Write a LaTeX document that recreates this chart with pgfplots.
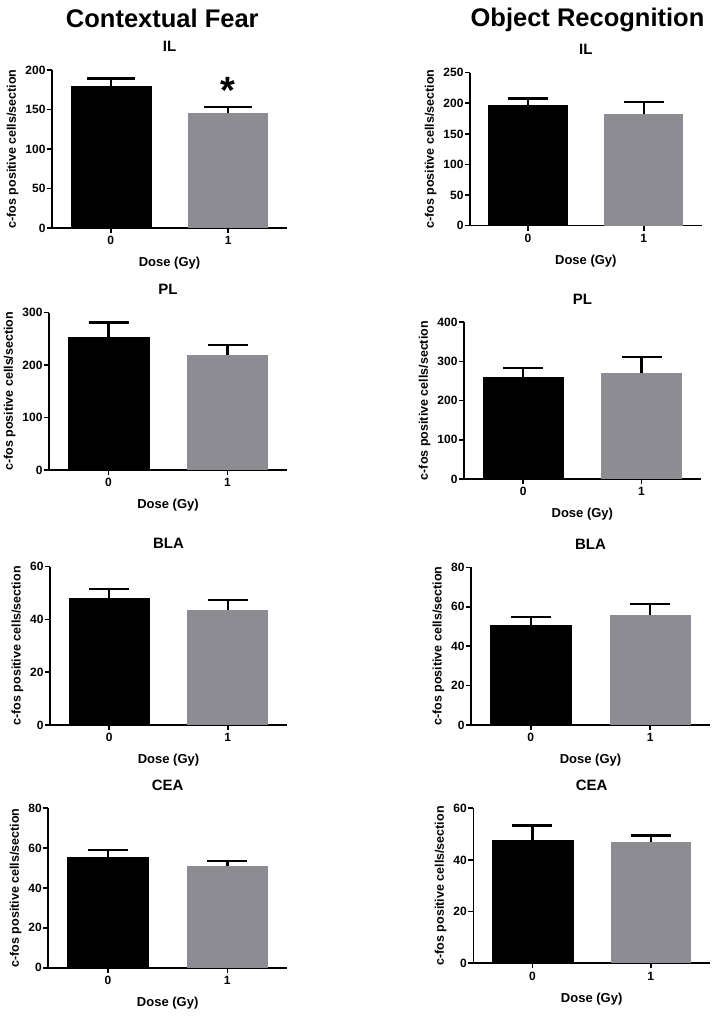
\documentclass[border=0pt]{standalone}
\usepackage{fontspec}
\setmainfont{Liberation Sans}
\usepackage{pgfplots}
\pgfplotsset{compat=1.18}
\definecolor{bargray}{RGB}{140,140,146}
\pgfplotsset{
 panel/.style={
  scale only axis, anchor=south west,
  xmin=-0.5, xmax=1.5, ymin=0,
  axis lines=left,
  axis line style={line width=1.6pt, -},
  tick align=outside, major tick length=5pt,
  tick style={line width=1.6pt, black},
  xtick={0,1},
  ticklabel style={font=\bfseries\fontsize{12}{13}\selectfont},
  yticklabel style={xshift=2pt},
  /pgf/number format/assume math mode=true,
  xlabel={Dose (Gy)}, ylabel={c-fos positive cells/section},
  xlabel style={font=\bfseries\fontsize{13}{14}\selectfont, at={(axis description cs:0.5,0)}, anchor=base, yshift=-38.7pt},
  ylabel style={font=\bfseries\fontsize{12.5}{14}\selectfont},
  title style={font=\bfseries\fontsize{15}{16}\selectfont, at={(axis description cs:0.5,1)}, anchor=base, yshift=12pt},
  clip=false,
 },
 barblack/.style={ybar, bar width=0.68, bar shift=0pt, fill=black, draw=black,
   error bars/.cd, y dir=plus, y explicit,
   error bar style={line width=2.4pt, black},
   error mark options={rotate=90, line width=2.4pt, mark size=#1, black}},
 barblack/.default=20pt,
 bargrey/.style={ybar, bar width=0.68, bar shift=0pt, fill=bargray, draw=none,
   error bars/.cd, y dir=plus, y explicit,
   error bar style={line width=2.4pt, black},
   error mark options={rotate=90, line width=2.4pt, mark size=#1, black}},
 bargrey/.default=20pt,
}
\begin{document}
\begin{tikzpicture}
\useasboundingbox (0pt,0pt) rectangle (718pt,1016pt);
\node[anchor=base, font=\bfseries\fontsize{25.5}{28}\selectfont] at (162.3pt,988.5pt) {Contextual Fear};
\node[anchor=base, font=\bfseries\fontsize{25.5}{28}\selectfont] at (587.5pt,989.3pt) {Object Recognition};

% Left column
\begin{axis}[panel, at={(52pt,788pt)}, width=235pt, height=158pt, ymax=200, ytick={0,50,100,150,200}, title={IL}]
\addplot[barblack=24pt] coordinates {(0,180) +- (0,9)};
\addplot[bargrey=24pt] coordinates {(1,146) +- (0,7.5)};
\node[anchor=base, font=\bfseries\fontsize{38}{38}\selectfont] at (axis cs:1,158) {*};
\end{axis}
\begin{axis}[panel, at={(49pt,546pt)}, width=238pt, height=157.3pt, ymax=300, ytick={0,100,200,300}, title={PL}]
\addplot[barblack] coordinates {(0,253) +- (0,28)};
\addplot[bargrey] coordinates {(1,219) +- (0,19)};
\end{axis}
\begin{axis}[panel, at={(50pt,291pt)}, width=237pt, height=158.3pt, ymax=60, ytick={0,20,40,60}, title={BLA}]
\addplot[barblack] coordinates {(0,48.0) +- (0,3.5)};
\addplot[bargrey] coordinates {(1,43.6) +- (0,3.8)};
\end{axis}
\begin{axis}[panel, at={(48.3pt,48.3pt)}, width=238.7pt, height=159.4pt, ymax=80, ytick={0,20,40,60,80}, title={CEA}]
\addplot[barblack] coordinates {(0,55.7) +- (0,3.4)};
\addplot[bargrey] coordinates {(1,51.1) +- (0,2.5)};
\end{axis}

% Right column
\begin{axis}[panel, at={(470pt,790.3pt)}, width=231.7pt, height=153pt, ymax=250, ytick={0,50,100,150,200,250}, title={IL}]
\addplot[barblack] coordinates {(0,197) +- (0,11)};
\addplot[bargrey] coordinates {(1,182) +- (0,20)};
\end{axis}
\begin{axis}[panel, at={(464pt,537pt)}, width=236.7pt, height=156.7pt, ymax=400, ytick={0,100,200,300,400}, title={PL}]
\addplot[barblack] coordinates {(0,260) +- (0,24)};
\addplot[bargrey] coordinates {(1,270) +- (0,42)};
\end{axis}
\begin{axis}[panel, at={(471pt,291pt)}, width=239pt, height=157.7pt, ymax=80, ytick={0,20,40,60,80}, title={BLA}]
\addplot[barblack] coordinates {(0,50.6) +- (0,4.3)};
\addplot[bargrey] coordinates {(1,56.0) +- (0,5.4)};
\end{axis}
\begin{axis}[panel, at={(473.3pt,52.7pt)}, width=236.7pt, height=155pt, ymax=60, ytick={0,20,40,60}, title={CEA}]
\addplot[barblack] coordinates {(0,47.7) +- (0,5.6)};
\addplot[bargrey] coordinates {(1,46.8) +- (0,2.6)};
\end{axis}
\end{tikzpicture}
\end{document}
